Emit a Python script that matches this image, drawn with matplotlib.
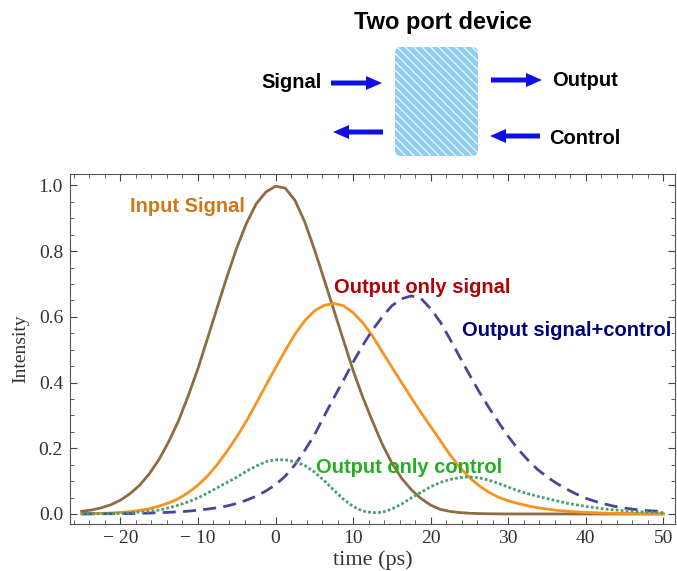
"""Two port device: pulse intensities for input and outputs."""

import matplotlib
matplotlib.use("Agg")
import matplotlib.pyplot as plt
from matplotlib.patches import FancyBboxPatch, FancyArrow
from matplotlib.ticker import MultipleLocator

# time axis (ps) and the four read-off intensity traces
t = [-25, -23.75, -22.5, -21.25, -20, -18.75, -17.5, -16.25, -15, -13.75,
     -12.5, -11.25, -10, -8.75, -7.5, -6.25, -5, -3.75, -2.5, -1.25, 0,
     1.25, 2.5, 3.75, 5, 6.25, 7.5, 8.75, 10, 11.25, 12.5, 13.75, 15, 16.25,
     17.5, 18.75, 20, 21.25, 22.5, 23.75, 25, 26.25, 27.5, 28.75, 30, 31.25,
     32.5, 33.75, 35, 36.25, 37.5, 38.75, 40, 41.25, 42.5, 43.75, 45, 46.25,
     47.5, 48.75, 50]
input_signal = [0.008, 0.012, 0.0185, 0.028, 0.042, 0.062, 0.088, 0.123, 0.167,
                0.221, 0.284, 0.36, 0.443, 0.536, 0.63, 0.723, 0.81, 0.885,
                0.944, 0.98, 0.998,
                0.992, 0.955, 0.89, 0.806, 0.715, 0.622, 0.529, 0.437, 0.355,
                0.282, 0.213, 0.155, 0.109, 0.074, 0.047, 0.027, 0.014, 0.0078,
                0.0042, 0.0023, 0.0012, 0.0006, 0.0003, 0.0001,
                0, 0, 0, 0, 0, 0, 0, 0, 0, 0, 0, 0, 0, 0, 0, 0]
output_only_signal = [0.0007, 0.0012, 0.0019, 0.0029, 0.0046, 0.0072, 0.011,
                      0.016, 0.024, 0.034, 0.047, 0.065, 0.088, 0.116, 0.151,
                      0.191, 0.235, 0.283, 0.337, 0.391, 0.445,
                      0.498, 0.547, 0.588, 0.618, 0.635, 0.641, 0.634, 0.613,
                      0.582, 0.542, 0.494, 0.447, 0.4, 0.354, 0.309, 0.266,
                      0.223, 0.18, 0.142, 0.111, 0.086, 0.066, 0.051, 0.04,
                      0.032, 0.025, 0.019, 0.015, 0.011, 0.0085, 0.0065,
                      0.0048, 0.0036, 0.0027, 0.002, 0.0014, 0.001, 0.0007,
                      0.0005, 0.0004]
output_signal_control = [0.0003, 0.0004, 0.0006, 0.0008, 0.001, 0.0013, 0.0019,
                         0.0028, 0.0038, 0.0052, 0.0067, 0.0086, 0.0114, 0.015,
                         0.019, 0.0245, 0.032, 0.042, 0.054, 0.07, 0.089,
                         0.115, 0.15, 0.193, 0.24, 0.297, 0.353, 0.407, 0.462,
                         0.514, 0.56, 0.6, 0.634, 0.655, 0.664, 0.656, 0.625,
                         0.584, 0.532, 0.478, 0.424, 0.372, 0.324, 0.279,
                         0.236, 0.198, 0.165, 0.136, 0.113, 0.093, 0.076,
                         0.061, 0.048, 0.038, 0.03, 0.023, 0.018, 0.014, 0.011,
                         0.009, 0.008]
output_only_control = [0.0003, 0.0006, 0.001, 0.0014, 0.002, 0.0037, 0.0056,
                       0.0085, 0.012, 0.019, 0.027, 0.037, 0.049, 0.064, 0.08,
                       0.096, 0.112, 0.13, 0.146, 0.159, 0.165,
                       0.165, 0.159, 0.148, 0.128, 0.102, 0.073, 0.045, 0.023,
                       0.009, 0.004, 0.005, 0.015, 0.03, 0.049, 0.066, 0.083,
                       0.096, 0.105, 0.111, 0.113, 0.11, 0.103, 0.093, 0.082,
                       0.071, 0.062, 0.054, 0.047, 0.04, 0.033, 0.028, 0.023,
                       0.019, 0.015, 0.012, 0.01, 0.008, 0.006, 0.005, 0.004]

W, H = 677, 571
fig = plt.figure(figsize=(W / 100, H / 100), dpi=100)

# --- diagram on top, drawn in pixel coordinates ---
top = fig.add_axes([0, 0, 1, 1])
top.set_xlim(0, W)
top.set_ylim(H, 0)
top.axis("off")

plt.rcParams["hatch.color"] = "white"
plt.rcParams["hatch.linewidth"] = 0.8
box = FancyBboxPatch((397, 49), 79, 105, boxstyle="round,pad=2,rounding_size=6",
                     facecolor="#8fcdf5", edgecolor="white", hatch="\\\\\\\\",
                     linewidth=0)
top.add_patch(box)

blue = "#1010e6"
arrows = [(331, 83, 51), (491, 80, 51), (383, 132, -50), (540, 136, -50)]
for x0, y0, dx in arrows:
    top.add_patch(FancyArrow(x0, y0, dx, 0, width=5, head_width=14,
                             head_length=16, length_includes_head=True,
                             color=blue, linewidth=0))

sans = "Liberation Sans"
top.text(443, 23, "Two port device", ha="center", va="center", fontsize=17,
         fontweight="bold", family=sans)
top.text(292, 83, "Signal", ha="center", va="center", fontsize=14.5,
         fontweight="bold", family=sans)
top.text(585, 80, "Output", ha="center", va="center", fontsize=14.5,
         fontweight="bold", family=sans)
top.text(585, 138, "Control", ha="center", va="center", fontsize=14.5,
         fontweight="bold", family=sans)

# --- intensity plot ---
ax = fig.add_axes([70 / W, 47 / H, 605 / W, 350 / H])
ax.plot(t, input_signal, color="#8e6b43", lw=2)
ax.plot(t, output_only_signal, color="#f7931e", lw=2)
ax.plot(t, output_signal_control, color="#46469a", lw=2, dashes=(4.7, 2.6))
ax.plot(t, output_only_control, color="#4c9e6e", lw=2, dashes=(1, 0.8))

ax.set_xlim(-26.5, 51.5)
ax.set_ylim(-0.0305, 1.035)
ax.xaxis.set_major_locator(MultipleLocator(10))
ax.xaxis.set_minor_locator(MultipleLocator(2))
ax.yaxis.set_major_locator(MultipleLocator(0.2))
ax.yaxis.set_minor_locator(MultipleLocator(0.05))
ax.yaxis.set_major_formatter(plt.FuncFormatter(lambda v, p: f"{v:.1f}"))
ax.xaxis.set_major_formatter(
    plt.FuncFormatter(lambda v, p: f"{v:.0f}".replace("-", "\u2212 ")))
ax.tick_params(which="both", direction="in", top=True, right=True,
               color="#444444", labelcolor="#333333", labelsize=14)
ax.tick_params(which="major", length=5)
ax.tick_params(which="minor", length=3)
ax.tick_params(axis="y", pad=5)
ax.tick_params(axis="x", pad=4)
for lab in ax.get_xticklabels() + ax.get_yticklabels():
    lab.set_family("Liberation Serif")
for sp in ax.spines.values():
    sp.set_color("#555555")

ax.set_xlabel("time (ps)", family="Liberation Serif", fontsize=16,
              color="#333333", labelpad=3)
ax.set_ylabel("Intensity", family="Liberation Serif", fontsize=14,
              color="#333333", labelpad=7)

ax.text(-18.8, 0.935, "Input Signal", color="#d2761a", fontsize=14.5,
        fontweight="bold", family=sans, va="center")
ax.text(7.6, 0.69, "Output only signal", color="#b30000", fontsize=14.5,
        fontweight="bold", family=sans, va="center")
ax.text(24.1, 0.56, "Output signal+control", color="#00007f", fontsize=14.5,
        fontweight="bold", family=sans, va="center")
ax.text(5.2, 0.143, "Output only control", color="#22b022", fontsize=14.5,
        fontweight="bold", family=sans, va="center")

fig.savefig("out.png", dpi=100)
